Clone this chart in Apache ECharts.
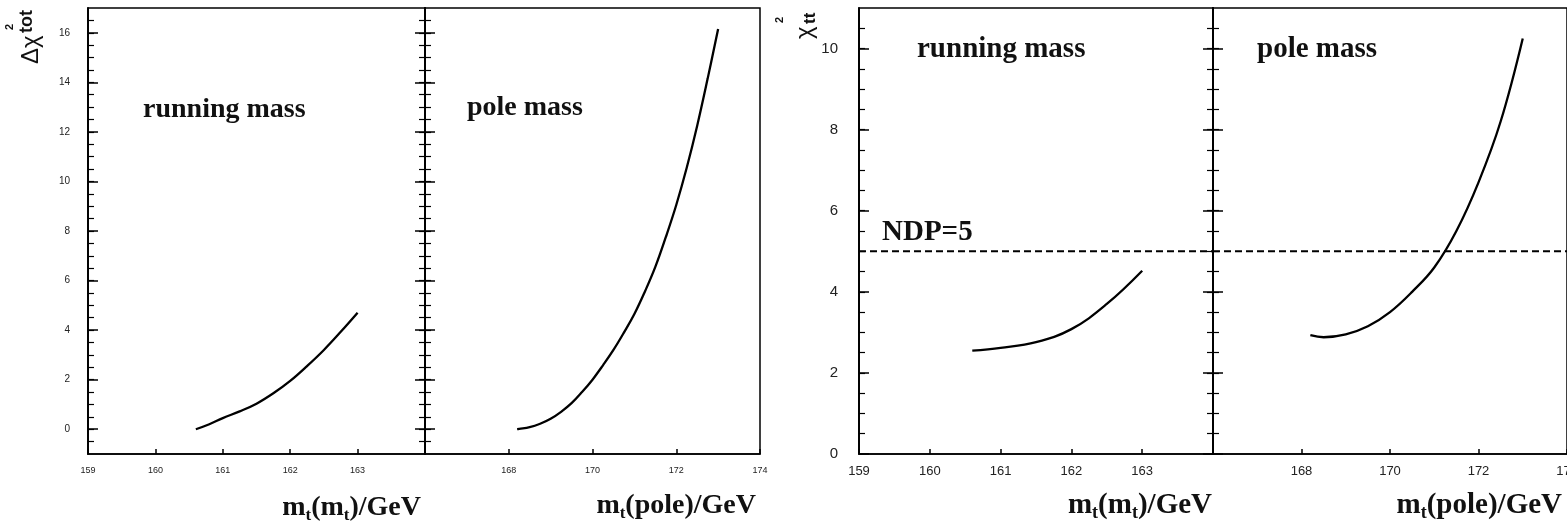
<!DOCTYPE html>
<html>
<head>
<meta charset="utf-8">
<script src="https://cdn.jsdelivr.net/npm/echarts@6/dist/echarts.min.js"></script>
<style>
html,body{margin:0;padding:0;background:#fff;overflow:hidden;}
#chart{width:1567px;height:528px;}
</style>
</head>
<body>
<div id="chart"></div>
<script>
// ---- data ----
const totRunMass  = [160.6, 160.8, 161.0, 161.25, 161.5, 161.75, 162.0, 162.25, 162.5, 162.75, 163.0];
const totRunChi2  = [0.0,   0.2,   0.45,  0.72,   1.03,  1.45,   1.95,  2.55,   3.2,   3.93,   4.7];
const totPoleMass = [168.2, 168.25, 168.5, 168.75, 169.0, 169.25, 169.5, 169.75, 170.0, 170.25, 170.5,
                     170.75, 171.0, 171.25, 171.5, 171.75, 172.0, 172.25, 172.5, 172.75, 173.0];
const totPoleChi2 = [0.0,   0.01,   0.08,  0.22,   0.42,  0.7,    1.05,  1.5,    2.0,   2.58,   3.2,
                     3.9,    4.65,  5.55,   6.55,  7.75,   9.05,  10.55,  12.25, 14.15,  16.15];
const ttRunMass   = [160.6, 161.0, 161.5, 162.0, 162.5, 163.0];
const ttRunChi2   = [2.55,  2.62,  2.76,  3.08,  3.7,   4.52];
const ttPoleMass  = [168.2, 168.5, 169.0, 169.5, 170.0, 170.5, 171.0, 171.5, 172.0, 172.5, 173.0];
const ttPoleChi2  = [2.93,  2.88,  2.95,  3.15,  3.5,   4.0,   4.6,   5.5,   6.7,   8.2,   10.25];
const ndpLevel = [5];

const runMassTicks = [159, 160, 161, 162, 163];
const poleMassTicks = [168, 170, 172, 174];
const totYTicks = [0, 2, 4, 6, 8, 10, 12, 14, 16];
const ttYTicks = [0, 2, 4, 6, 8, 10];

function halves(lo, hi) { const a = []; for (let v = lo; v <= hi + 1e-9; v += 0.5) a.push(v); return a; }
const totYMinor = halves(-0.5, 16.5);
const ttYMinor = halves(0.5, 10.5);

const BLACK = '#000';
const axLine = {show: true, onZero: false, lineStyle: {color: BLACK, width: 1.5}};

function xAx(gi, min, max, interval, shown, fs) {
  return {
    type: 'value', gridIndex: gi, min: min, max: max, interval: interval,
    axisLine: axLine,
    axisTick: {inside: true, length: 5, lineStyle: {color: BLACK, width: 1.5}},
    axisLabel: {fontSize: fs, color: '#222', fontFamily: 'Liberation Sans', margin: fs > 10 ? 11 : 12,
      showMinLabel: true, showMaxLabel: true, hideOverlap: false,
      formatter: v => shown.indexOf(v) >= 0 ? String(v) : ''},
    splitLine: {show: false}
  };
}
function yAxPair(gi, pos, min, max, major, minor, label) {
  const a = {
    type: 'value', gridIndex: gi, position: pos, min: min, max: max,
    axisLine: axLine,
    axisTick: {inside: true, length: 10, customValues: major, lineStyle: {color: BLACK, width: 1.5}},
    axisLabel: label ? Object.assign({customValues: major, color: '#222', fontFamily: 'Liberation Sans'}, label) : {show: false},
    splitLine: {show: false}
  };
  const b = {
    type: 'value', gridIndex: gi, position: pos, min: min, max: max,
    axisLine: axLine,
    axisTick: {inside: true, length: 6, customValues: minor, lineStyle: {color: BLACK, width: 1.2}},
    axisLabel: {show: false},
    splitLine: {show: false}
  };
  return [a, b];
}

const grids = [
  {left: 88, top: 8, width: 337, height: 446},
  {left: 425, top: 8, width: 335, height: 446},
  {left: 859, top: 8, width: 354, height: 446},
  {left: 1213, top: 8, width: 354, height: 446}
].map(g => Object.assign({show: true, borderColor: BLACK, borderWidth: 1.5, backgroundColor: 'transparent',
  containLabel: false, outerBoundsMode: 'none'}, g));

const xAxes = [
  xAx(0, 159, 164, 1, runMassTicks, 9),
  xAx(1, 166, 174, 2, poleMassTicks, 9),
  xAx(2, 159, 164, 1, runMassTicks, 13),
  xAx(3, 166, 174, 2, poleMassTicks, 13)
];

let yAxes = [];
yAxes = yAxes.concat(yAxPair(0, 'left', -1, 17, totYTicks, totYMinor, {fontSize: 10, margin: 18}));   // 0,1
yAxes = yAxes.concat(yAxPair(0, 'right', -1, 17, totYTicks, totYMinor, null));                        // 2,3
yAxes = yAxes.concat(yAxPair(1, 'left', -1, 17, totYTicks, totYMinor, null));                         // 4,5
yAxes = yAxes.concat(yAxPair(2, 'left', 0, 11, ttYTicks, ttYMinor, {fontSize: 15, margin: 21}));      // 6,7
yAxes = yAxes.concat(yAxPair(2, 'right', 0, 11, ttYTicks, ttYMinor, null));                           // 8,9
yAxes = yAxes.concat(yAxPair(3, 'left', 0, 11, ttYTicks, ttYMinor, null));                            // 10,11

function zip(xs, ys) { return xs.map((x, i) => [x, ys[i]]); }
function curve(xi, yi, xs, ys) {
  return {type: 'line', xAxisIndex: xi, yAxisIndex: yi, data: zip(xs, ys), symbol: 'none',
    smooth: 0.4, lineStyle: {color: BLACK, width: 2.3}, z: 5};
}
function dashed(xi, yi, xmin, xmax) {
  return {type: 'line', xAxisIndex: xi, yAxisIndex: yi, data: [[xmin, ndpLevel[0]], [xmax, ndpLevel[0]]],
    symbol: 'none', lineStyle: {color: BLACK, width: 2, type: [7, 4]}, z: 3};
}

function label(x, y, text, size) {
  return {type: 'text', x: x, y: y, style: {text: text, font: 'bold ' + size + 'px "Liberation Serif"', fill: '#111',
    textAlign: 'left', textVerticalAlign: 'middle'}};
}
function xTitle(xRight, yMid, parts, size) {
  const sub = Math.round(size * 0.62);
  return {type: 'text', x: xRight, y: yMid, style: {
    text: parts, textAlign: 'right', textVerticalAlign: 'middle', fill: '#111',
    rich: {
      m: {fontFamily: 'Liberation Serif', fontWeight: 'bold', fontSize: size, lineHeight: 32},
      s: {fontFamily: 'Liberation Serif', fontWeight: 'bold', fontSize: sub, lineHeight: 12, verticalAlign: 'bottom'}
    }}};
}
function rotText(x, y, text, font) {
  return {type: 'text', x: x, y: y, rotation: Math.PI / 2,
    style: {text: text, font: font, fill: '#111', textAlign: 'left', textVerticalAlign: 'middle'}};
}

const graphics = [
  label(143, 110, 'running mass', 28),
  label(467, 108, 'pole mass', 28),
  label(917, 50, 'running mass', 29),
  label(1257, 50, 'pole mass', 29),
  label(882, 233, 'NDP=5', 29),
  xTitle(421, 508, '{m|m}{s|t}{m|(m}{s|t}{m|)/GeV}', 28),
  xTitle(756, 506, '{m|m}{s|t}{m|(pole)/GeV}', 28),
  xTitle(1212, 506, '{m|m}{s|t}{m|(m}{s|t}{m|)/GeV}', 29),
  xTitle(1562, 506, '{m|m}{s|t}{m|(pole)/GeV}', 29),
  rotText(31, 64, 'Δχ', '24px "Liberation Sans"'),
  rotText(27, 33, 'tot', 'bold 18px "Liberation Sans"'),
  rotText(10, 30, '2', 'bold 11px "Liberation Sans"'),
  rotText(805, 39, 'χ', '24px "Liberation Sans"'),
  rotText(810, 24, 'tt', 'bold 17px "Liberation Sans"'),
  rotText(780, 23, '2', 'bold 11px "Liberation Sans"')
];

const chart = echarts.init(document.getElementById('chart'), null, {renderer: 'canvas'});
chart.setOption({
  animation: false,
  backgroundColor: '#fff',
  grid: grids,
  xAxis: xAxes,
  yAxis: yAxes,
  series: [
    curve(0, 0, totRunMass, totRunChi2),
    curve(1, 4, totPoleMass, totPoleChi2),
    dashed(2, 6, 159, 164),
    dashed(3, 10, 166, 174),
    curve(2, 6, ttRunMass, ttRunChi2),
    curve(3, 10, ttPoleMass, ttPoleChi2)
  ],
  graphic: graphics
});
</script>
</body>
</html>
